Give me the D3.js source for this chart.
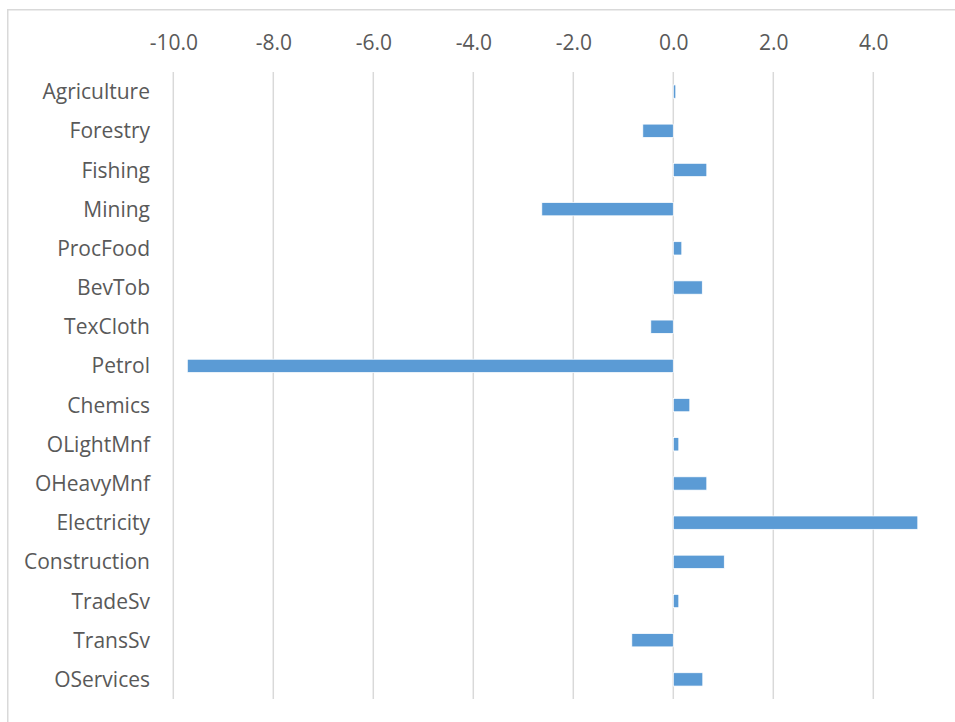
<!DOCTYPE html>
<html>
<head>
<meta charset="utf-8">
<script src="https://cdn.jsdelivr.net/npm/d3@7"></script>
<style>
  html, body { margin: 0; padding: 0; background: #fff; }
  svg { display: block; }
</style>
</head>
<body>
<svg id="chart" width="955" height="722"></svg>
<script>
const categories = ["Agriculture","Forestry","Fishing","Mining","ProcFood","BevTob","TexCloth","Petrol","Chemics","OLightMnf","OHeavyMnf","Electricity","Construction","TradeSv","TransSv","OServices"];
const values = [0.05,-0.61,0.67,-2.63,0.17,0.58,-0.45,-9.72,0.33,0.11,0.67,4.89,1.02,0.11,-0.83,0.59];
const tickValues = [-10,-8,-6,-4,-2,0,2,4];
const tickLabels = ["-10.0","-8.0","-6.0","-4.0","-2.0","0.0","2.0","4.0"];

const svg = d3.select("#chart");
const W = 955, H = 722;
const plot = {left: 173.3, right: 923.3, top: 72, bottom: 699};
const font = "'Open Sans', 'Noto Sans', sans-serif";
const textColor = "#595959";
const gridColor = "#d9d9d9";

svg.append("rect").attr("width", W).attr("height", H).attr("fill", "#fff");

// chart area border (top & left visible)
svg.append("rect")
  .attr("x", 7.75).attr("y", 9.75)
  .attr("width", 1000).attr("height", 1000)
  .attr("fill", "none").attr("stroke", gridColor).attr("stroke-width", 1.5);

const x = d3.scaleLinear().domain([-10, 5]).range([plot.left, plot.right]);
const y = d3.scaleBand().domain(categories).range([plot.top, plot.bottom])
  .paddingInner(0.66).paddingOuter(0.33);

// gridlines
svg.append("g").selectAll("line").data(tickValues).join("line")
  .attr("x1", d => x(d)).attr("x2", d => x(d))
  .attr("y1", plot.top).attr("y2", plot.bottom)
  .attr("stroke", gridColor).attr("stroke-width", 1.5);

// top axis labels
const xAxis = d3.axisTop(x).tickValues(tickValues)
  .tickFormat((d, i) => tickLabels[i]).tickSize(0).tickPadding(0);
const gx = svg.append("g").attr("transform", "translate(0,50)").call(xAxis);
gx.select(".domain").remove();
gx.selectAll("text")
  .attr("font-family", font).attr("font-size", 21)
  .attr("fill", textColor).attr("dy", 0);

// bars
svg.append("g").selectAll("rect").data(values).join("rect")
  .attr("x", d => x(Math.min(0, d)))
  .attr("y", (d, i) => y(categories[i]))
  .attr("width", d => Math.abs(x(d) - x(0)))
  .attr("height", y.bandwidth())
  .attr("fill", "#5B9BD5")
  .attr("stroke", "#ffffff").attr("stroke-width", 0.75);

// category labels
const yAxis = d3.axisLeft(y).tickSize(0).tickPadding(0);
const gy = svg.append("g").attr("transform", "translate(150,0)").call(yAxis);
gy.select(".domain").remove();
gy.selectAll("text")
  .attr("font-family", font).attr("font-size", 21)
  .attr("fill", textColor).attr("dy", "0.36em");
</script>
</body>
</html>
